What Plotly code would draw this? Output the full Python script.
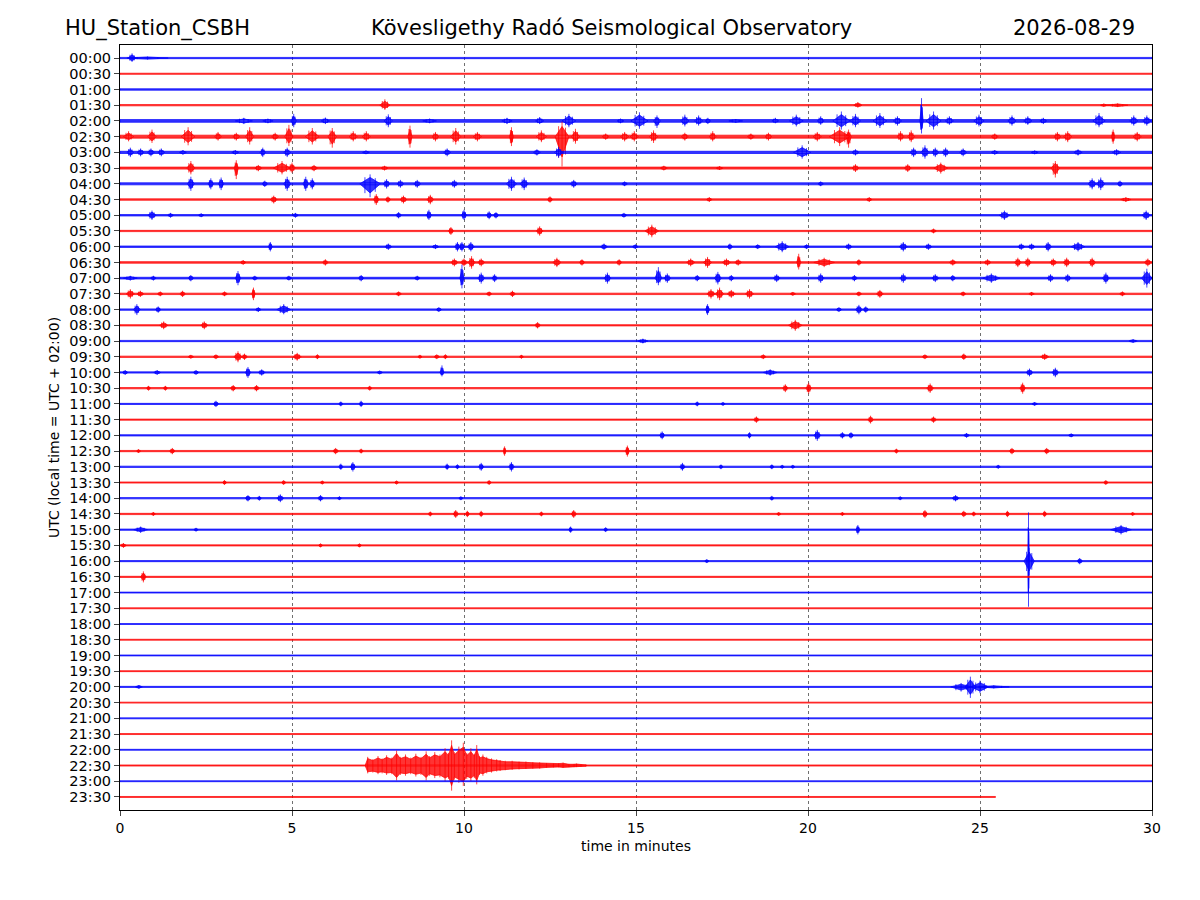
import plotly.graph_objects as go

# helicorder rows: one line per half hour (UTC)
row_labels = [f"{h:02d}:{m:02d}" for h in range(24) for m in (0, 30)]

# background noise half-thickness of each row (in row units)
row_noise = [0.04, 0.035, 0.045, 0.04, 0.085, 0.095, 0.07, 0.065, 0.065, 0.045,
             0.045, 0.04, 0.045, 0.05, 0.055, 0.045, 0.045, 0.04, 0.04, 0.04,
             0.04, 0.04, 0.035, 0.035, 0.04, 0.04, 0.04, 0.035, 0.04, 0.04,
             0.04, 0.035, 0.035, 0.035, 0.03, 0.03, 0.03, 0.03, 0.03, 0.03,
             0.035, 0.03, 0.03, 0.03, 0.03, 0.035, 0.03, 0.03]
# last sample of each row (minutes)
row_end = [30.0] * 47 + [25.45]

# bursts: (row, centre min, half width min, up, down)
bursts = [
    (0, 0.35, 0.12, 0.3, 0.25), (0, 0.8, 0.6, 0.1, 0.1),
    (3, 7.7, 0.15, 0.38, 0.3), (3, 21.45, 0.12, 0.2, 0.15), (3, 28.6, 0.1, 0.1, 0.1), (3, 29.0, 0.3, 0.12, 0.12),
    (4, 3.6, 0.25, 0.2, 0.2), (4, 4.3, 0.15, 0.15, 0.15), (4, 5.05, 0.08, 0.45, 0.4), (4, 5.97, 0.12, 0.22, 0.2),
    (4, 7.8, 0.12, 0.42, 0.4), (4, 9.0, 0.2, 0.15, 0.15), (4, 11.25, 0.15, 0.2, 0.2), (4, 12.2, 0.12, 0.25, 0.2),
    (4, 13.05, 0.2, 0.45, 0.4), (4, 14.55, 0.1, 0.15, 0.15), (4, 15.1, 0.25, 0.55, 0.5), (4, 15.61, 0.1, 0.35, 0.45),
    (4, 16.42, 0.12, 0.4, 0.35), (4, 16.82, 0.12, 0.35, 0.3), (4, 17.09, 0.08, 0.2, 0.2), (4, 17.9, 0.2, 0.12, 0.12),
    (4, 19.05, 0.1, 0.2, 0.15), (4, 19.66, 0.2, 0.4, 0.35), (4, 20.37, 0.1, 0.3, 0.25), (4, 20.97, 0.25, 0.6, 0.55),
    (4, 21.38, 0.15, 0.45, 0.4), (4, 22.09, 0.2, 0.5, 0.45), (4, 22.6, 0.12, 0.3, 0.3), (4, 23.3, 0.05, 1.45, 0.8),
    (4, 23.65, 0.22, 0.6, 0.55), (4, 24.11, 0.12, 0.3, 0.25), (4, 24.97, 0.15, 0.4, 0.35), (4, 25.93, 0.12, 0.35, 0.3),
    (4, 26.39, 0.12, 0.3, 0.25), (4, 26.84, 0.1, 0.2, 0.2), (4, 28.46, 0.18, 0.5, 0.4), (4, 29.47, 0.12, 0.35, 0.3),
    (4, 29.85, 0.12, 0.35, 0.3),
    (5, 0.25, 0.15, 0.35, 0.3), (5, 0.93, 0.12, 0.45, 0.4), (5, 1.98, 0.2, 0.6, 0.55), (5, 2.85, 0.1, 0.3, 0.25),
    (5, 3.38, 0.1, 0.25, 0.25), (5, 3.77, 0.12, 0.6, 0.5), (5, 4.51, 0.1, 0.25, 0.25), (5, 4.91, 0.12, 0.75, 0.6),
    (5, 5.59, 0.2, 0.55, 0.5), (5, 6.17, 0.12, 0.55, 0.7), (5, 6.78, 0.12, 0.35, 0.3), (5, 7.16, 0.12, 0.35, 0.3),
    (5, 8.43, 0.06, 0.7, 0.7), (5, 9.17, 0.1, 0.3, 0.3), (5, 9.76, 0.15, 0.55, 0.5), (5, 10.39, 0.12, 0.3, 0.3),
    (5, 11.38, 0.06, 0.6, 0.6), (5, 12.25, 0.15, 0.4, 0.35), (5, 12.85, 0.2, 0.95, 1.9), (5, 13.24, 0.12, 0.5, 0.45),
    (5, 14.12, 0.1, 0.2, 0.2), (5, 14.67, 0.12, 0.3, 0.3), (5, 14.95, 0.12, 0.35, 0.3), (5, 15.51, 0.12, 0.4, 0.4),
    (5, 16.42, 0.1, 0.25, 0.25), (5, 17.23, 0.1, 0.35, 0.3), (5, 18.34, 0.1, 0.2, 0.2), (5, 18.85, 0.1, 0.25, 0.25),
    (5, 20.27, 0.12, 0.3, 0.3), (5, 20.92, 0.3, 0.6, 0.6), (5, 21.18, 0.08, 0.45, 0.7), (5, 22.69, 0.1, 0.35, 0.3),
    (5, 23.0, 0.1, 0.4, 0.35), (5, 25.43, 0.1, 0.2, 0.2), (5, 27.25, 0.1, 0.3, 0.3), (5, 27.55, 0.12, 0.35, 0.35),
    (5, 28.87, 0.05, 0.45, 0.45), (5, 29.57, 0.12, 0.3, 0.3),
    (6, 0.3, 0.1, 0.3, 0.3), (6, 0.6, 0.1, 0.25, 0.25), (6, 0.9, 0.1, 0.25, 0.25), (6, 1.2, 0.1, 0.25, 0.25),
    (6, 1.83, 0.1, 0.15, 0.15), (6, 3.35, 0.1, 0.15, 0.15), (6, 4.15, 0.08, 0.3, 0.3), (6, 4.86, 0.1, 0.3, 0.3),
    (6, 7.15, 0.1, 0.12, 0.12), (6, 9.51, 0.1, 0.25, 0.25), (6, 12.12, 0.1, 0.2, 0.2), (6, 12.75, 0.12, 0.35, 0.35),
    (6, 19.83, 0.25, 0.45, 0.4), (6, 21.38, 0.1, 0.2, 0.2), (6, 23.07, 0.1, 0.3, 0.3), (6, 23.4, 0.12, 0.45, 0.4),
    (6, 23.7, 0.1, 0.3, 0.3), (6, 24.0, 0.1, 0.3, 0.3), (6, 24.51, 0.1, 0.25, 0.25), (6, 25.43, 0.1, 0.15, 0.15),
    (6, 26.59, 0.1, 0.12, 0.12), (6, 27.85, 0.12, 0.2, 0.2), (6, 28.97, 0.12, 0.2, 0.2),
    (7, 2.06, 0.12, 0.45, 0.4), (7, 3.38, 0.06, 0.5, 0.7), (7, 4.02, 0.1, 0.2, 0.2), (7, 4.71, 0.25, 0.45, 0.4),
    (7, 5.0, 0.1, 0.35, 0.3), (7, 5.64, 0.1, 0.2, 0.2), (7, 7.69, 0.1, 0.15, 0.15), (7, 15.81, 0.1, 0.15, 0.15),
    (7, 17.43, 0.1, 0.12, 0.12), (7, 21.38, 0.1, 0.25, 0.25), (7, 22.9, 0.1, 0.25, 0.25), (7, 23.86, 0.2, 0.35, 0.35),
    (7, 27.19, 0.12, 0.45, 0.6),
    (8, 2.06, 0.1, 0.45, 0.45), (8, 2.64, 0.08, 0.35, 0.35), (8, 2.94, 0.08, 0.4, 0.4), (8, 4.21, 0.08, 0.2, 0.2),
    (8, 4.86, 0.1, 0.45, 0.45), (8, 5.4, 0.08, 0.45, 0.45), (8, 5.59, 0.08, 0.35, 0.35), (8, 7.27, 0.3, 0.6, 0.85),
    (8, 7.75, 0.1, 0.3, 0.3), (8, 8.15, 0.1, 0.25, 0.25), (8, 8.64, 0.1, 0.25, 0.25), (8, 9.72, 0.1, 0.25, 0.25),
    (8, 11.38, 0.15, 0.45, 0.45), (8, 11.75, 0.12, 0.4, 0.4), (8, 13.19, 0.1, 0.25, 0.25), (8, 14.67, 0.08, 0.15, 0.15),
    (8, 20.37, 0.08, 0.15, 0.15), (8, 28.26, 0.12, 0.35, 0.35), (8, 28.51, 0.12, 0.4, 0.4), (8, 29.07, 0.08, 0.2, 0.2),
    (9, 4.47, 0.1, 0.25, 0.25), (9, 7.45, 0.08, 0.35, 0.35), (9, 7.79, 0.08, 0.2, 0.2), (9, 8.24, 0.1, 0.25, 0.25),
    (9, 9.02, 0.1, 0.3, 0.3), (9, 12.5, 0.08, 0.2, 0.2), (9, 17.13, 0.08, 0.15, 0.15), (9, 21.78, 0.08, 0.15, 0.15),
    (9, 29.24, 0.15, 0.15, 0.15),
    (10, 0.93, 0.12, 0.3, 0.3), (10, 1.47, 0.08, 0.15, 0.15), (10, 2.36, 0.08, 0.12, 0.12), (10, 5.1, 0.08, 0.15, 0.15),
    (10, 8.1, 0.08, 0.2, 0.2), (10, 8.98, 0.08, 0.35, 0.3), (10, 10.0, 0.08, 0.35, 0.3), (10, 10.73, 0.08, 0.25, 0.25),
    (10, 10.93, 0.08, 0.2, 0.2), (10, 14.65, 0.08, 0.15, 0.15), (10, 25.71, 0.15, 0.3, 0.3), (10, 29.83, 0.12, 0.3, 0.3),
    (11, 9.62, 0.08, 0.25, 0.25), (11, 12.2, 0.1, 0.3, 0.3), (11, 15.46, 0.2, 0.4, 0.4), (11, 23.65, 0.08, 0.15, 0.15),
    (12, 4.37, 0.06, 0.3, 0.3), (12, 7.8, 0.1, 0.2, 0.2), (12, 9.17, 0.1, 0.15, 0.15), (12, 9.81, 0.08, 0.3, 0.3),
    (12, 9.94, 0.08, 0.3, 0.3), (12, 10.2, 0.1, 0.3, 0.3), (12, 14.07, 0.1, 0.2, 0.2), (12, 14.98, 0.08, 0.15, 0.15),
    (12, 17.73, 0.08, 0.2, 0.2), (12, 18.54, 0.08, 0.15, 0.15), (12, 19.25, 0.2, 0.35, 0.35), (12, 19.96, 0.08, 0.15, 0.15),
    (12, 21.18, 0.1, 0.2, 0.2), (12, 22.77, 0.12, 0.3, 0.3), (12, 23.5, 0.1, 0.2, 0.2), (12, 26.2, 0.1, 0.2, 0.2),
    (12, 26.5, 0.1, 0.2, 0.2), (12, 26.98, 0.1, 0.3, 0.3), (12, 27.85, 0.2, 0.3, 0.3),
    (13, 3.58, 0.08, 0.15, 0.15), (13, 5.97, 0.08, 0.2, 0.2), (13, 9.72, 0.1, 0.25, 0.25), (13, 10.0, 0.1, 0.25, 0.25),
    (13, 10.22, 0.1, 0.4, 0.4), (13, 10.5, 0.1, 0.25, 0.25), (13, 12.7, 0.12, 0.3, 0.3), (13, 13.43, 0.08, 0.2, 0.2),
    (13, 14.51, 0.08, 0.2, 0.2), (13, 16.59, 0.12, 0.25, 0.25), (13, 17.08, 0.12, 0.35, 0.35), (13, 17.63, 0.12, 0.25, 0.25),
    (13, 17.97, 0.1, 0.2, 0.2), (13, 19.73, 0.06, 0.55, 0.45), (13, 20.47, 0.3, 0.3, 0.3), (13, 21.48, 0.08, 0.2, 0.2),
    (13, 24.21, 0.1, 0.2, 0.2), (13, 25.22, 0.1, 0.2, 0.2), (13, 26.1, 0.1, 0.3, 0.3), (13, 26.39, 0.1, 0.3, 0.3),
    (13, 27.13, 0.1, 0.25, 0.25), (13, 27.52, 0.1, 0.3, 0.3), (13, 28.26, 0.1, 0.3, 0.3), (13, 29.88, 0.1, 0.25, 0.25),
    (14, 0.3, 0.2, 0.15, 0.15), (14, 0.97, 0.08, 0.15, 0.15), (14, 2.06, 0.08, 0.2, 0.2), (14, 3.43, 0.08, 0.45, 0.45),
    (14, 3.92, 0.08, 0.15, 0.15), (14, 4.91, 0.08, 0.15, 0.15), (14, 7.01, 0.08, 0.2, 0.2), (14, 8.64, 0.08, 0.15, 0.15),
    (14, 9.94, 0.06, 0.85, 0.65), (14, 10.5, 0.1, 0.35, 0.35), (14, 10.89, 0.08, 0.25, 0.25), (14, 14.17, 0.1, 0.35, 0.35),
    (14, 15.65, 0.1, 0.7, 0.45), (14, 15.91, 0.1, 0.3, 0.3), (14, 16.78, 0.08, 0.2, 0.2), (14, 17.38, 0.1, 0.4, 0.4),
    (14, 17.77, 0.08, 0.2, 0.2), (14, 19.09, 0.1, 0.25, 0.25), (14, 20.37, 0.1, 0.3, 0.3), (14, 21.35, 0.08, 0.2, 0.2),
    (14, 22.77, 0.1, 0.3, 0.3), (14, 23.7, 0.1, 0.25, 0.25), (14, 24.21, 0.08, 0.2, 0.2), (14, 25.33, 0.25, 0.3, 0.3),
    (14, 27.05, 0.1, 0.25, 0.25), (14, 27.55, 0.1, 0.25, 0.25), (14, 28.66, 0.1, 0.35, 0.35), (14, 29.85, 0.15, 0.6, 0.6),
    (15, 0.3, 0.12, 0.3, 0.3), (15, 0.59, 0.1, 0.2, 0.2), (15, 1.17, 0.08, 0.15, 0.15), (15, 1.82, 0.08, 0.2, 0.2),
    (15, 3.04, 0.08, 0.15, 0.15), (15, 3.88, 0.05, 0.4, 0.4), (15, 8.1, 0.08, 0.15, 0.15), (15, 10.73, 0.08, 0.15, 0.15),
    (15, 11.41, 0.08, 0.2, 0.2), (15, 17.18, 0.12, 0.3, 0.3), (15, 17.43, 0.12, 0.4, 0.4), (15, 17.77, 0.12, 0.25, 0.25),
    (15, 18.3, 0.12, 0.3, 0.3), (15, 19.56, 0.08, 0.12, 0.12), (15, 21.48, 0.08, 0.15, 0.15), (15, 22.09, 0.1, 0.25, 0.25),
    (15, 24.51, 0.08, 0.15, 0.15), (15, 26.5, 0.08, 0.12, 0.12), (15, 29.14, 0.08, 0.15, 0.15),
    (16, 0.49, 0.1, 0.35, 0.35), (16, 1.11, 0.08, 0.2, 0.2), (16, 4.02, 0.08, 0.15, 0.15), (16, 4.76, 0.2, 0.35, 0.3),
    (16, 9.27, 0.08, 0.15, 0.15), (16, 17.08, 0.06, 0.35, 0.35), (16, 20.9, 0.08, 0.15, 0.15), (16, 21.48, 0.1, 0.3, 0.3),
    (16, 21.68, 0.08, 0.2, 0.2),
    (17, 1.27, 0.12, 0.25, 0.25), (17, 2.45, 0.1, 0.25, 0.25), (17, 12.14, 0.08, 0.2, 0.2), (17, 19.63, 0.2, 0.35, 0.35),
    (18, 15.2, 0.15, 0.15, 0.15), (18, 29.45, 0.12, 0.12, 0.12),
    (19, 2.06, 0.08, 0.12, 0.12), (19, 2.79, 0.08, 0.15, 0.15), (19, 3.43, 0.12, 0.35, 0.35), (19, 3.62, 0.08, 0.2, 0.2),
    (19, 5.15, 0.12, 0.25, 0.25), (19, 5.74, 0.06, 0.15, 0.15), (19, 8.72, 0.06, 0.12, 0.12), (19, 9.21, 0.08, 0.15, 0.15),
    (19, 9.46, 0.06, 0.15, 0.15), (19, 11.67, 0.06, 0.12, 0.12), (19, 18.7, 0.08, 0.15, 0.15), (19, 23.4, 0.08, 0.15, 0.15),
    (19, 24.53, 0.08, 0.2, 0.2), (19, 26.88, 0.12, 0.2, 0.2),
    (20, 0.15, 0.08, 0.15, 0.15), (20, 1.08, 0.1, 0.15, 0.15), (20, 2.21, 0.08, 0.15, 0.15), (20, 3.72, 0.08, 0.35, 0.35),
    (20, 4.12, 0.1, 0.2, 0.2), (20, 7.55, 0.08, 0.12, 0.12), (20, 9.36, 0.06, 0.45, 0.25), (20, 18.9, 0.2, 0.2, 0.2),
    (20, 26.44, 0.1, 0.25, 0.25), (20, 27.19, 0.1, 0.3, 0.3),
    (21, 0.83, 0.06, 0.15, 0.15), (21, 1.32, 0.06, 0.15, 0.15), (21, 3.29, 0.08, 0.2, 0.2), (21, 3.97, 0.08, 0.2, 0.2),
    (21, 7.26, 0.06, 0.15, 0.15), (21, 19.34, 0.08, 0.25, 0.25), (21, 20.02, 0.08, 0.35, 0.35), (21, 23.55, 0.1, 0.3, 0.3),
    (21, 26.24, 0.08, 0.35, 0.35),
    (22, 2.79, 0.08, 0.2, 0.2), (22, 6.42, 0.06, 0.15, 0.15), (22, 7.01, 0.06, 0.2, 0.2), (22, 16.78, 0.06, 0.15, 0.15),
    (22, 17.53, 0.06, 0.12, 0.12), (22, 26.59, 0.08, 0.12, 0.12),
    (23, 18.5, 0.08, 0.2, 0.2), (23, 21.82, 0.08, 0.25, 0.25), (23, 23.65, 0.08, 0.2, 0.2),
    (24, 15.76, 0.08, 0.25, 0.25), (24, 18.3, 0.06, 0.2, 0.2), (24, 20.27, 0.1, 0.35, 0.35), (24, 21.0, 0.08, 0.2, 0.2),
    (24, 21.25, 0.08, 0.2, 0.2), (24, 24.61, 0.08, 0.15, 0.15), (24, 27.65, 0.08, 0.12, 0.12),
    (25, 0.54, 0.06, 0.12, 0.12), (25, 1.52, 0.08, 0.2, 0.2), (25, 6.27, 0.08, 0.2, 0.2), (25, 7.01, 0.06, 0.15, 0.15),
    (25, 11.18, 0.04, 0.3, 0.3), (25, 14.75, 0.06, 0.35, 0.35), (25, 22.57, 0.06, 0.15, 0.15), (25, 25.93, 0.08, 0.2, 0.2),
    (25, 26.94, 0.08, 0.2, 0.2),
    (26, 6.42, 0.06, 0.2, 0.2), (26, 6.77, 0.08, 0.3, 0.3), (26, 9.51, 0.06, 0.2, 0.2), (26, 9.81, 0.06, 0.15, 0.15),
    (26, 10.5, 0.08, 0.25, 0.25), (26, 11.38, 0.08, 0.3, 0.3), (26, 16.35, 0.08, 0.25, 0.25), (26, 17.47, 0.06, 0.15, 0.15),
    (26, 18.95, 0.06, 0.15, 0.15), (26, 19.25, 0.06, 0.12, 0.12), (26, 19.56, 0.06, 0.12, 0.12), (26, 25.53, 0.06, 0.12, 0.12),
    (27, 3.04, 0.06, 0.15, 0.15), (27, 4.76, 0.06, 0.15, 0.15), (27, 5.88, 0.06, 0.12, 0.12), (27, 8.04, 0.06, 0.12, 0.12),
    (27, 10.73, 0.06, 0.15, 0.15), (27, 28.66, 0.06, 0.15, 0.15),
    (28, 3.72, 0.08, 0.2, 0.2), (28, 4.05, 0.06, 0.15, 0.15), (28, 4.66, 0.1, 0.25, 0.25), (28, 5.83, 0.08, 0.2, 0.2),
    (28, 6.38, 0.06, 0.12, 0.12), (28, 9.91, 0.06, 0.12, 0.12), (28, 18.95, 0.06, 0.15, 0.15), (28, 22.68, 0.06, 0.12, 0.12),
    (28, 24.29, 0.1, 0.2, 0.2),
    (29, 0.97, 0.06, 0.12, 0.12), (29, 9.02, 0.06, 0.15, 0.15), (29, 9.76, 0.08, 0.25, 0.25), (29, 10.1, 0.06, 0.2, 0.2),
    (29, 10.5, 0.06, 0.2, 0.2), (29, 12.25, 0.06, 0.15, 0.15), (29, 13.19, 0.08, 0.25, 0.25), (29, 19.15, 0.06, 0.12, 0.12),
    (29, 21.0, 0.06, 0.12, 0.12), (29, 23.4, 0.08, 0.25, 0.25), (29, 24.53, 0.08, 0.2, 0.2), (29, 24.82, 0.06, 0.15, 0.15),
    (29, 25.8, 0.06, 0.2, 0.2), (29, 26.88, 0.06, 0.2, 0.2), (29, 29.44, 0.06, 0.12, 0.12),
    (30, 0.6, 0.2, 0.2, 0.2), (30, 2.21, 0.06, 0.12, 0.12), (30, 13.1, 0.06, 0.2, 0.2), (30, 14.12, 0.06, 0.15, 0.15),
    (30, 21.45, 0.06, 0.3, 0.3), (30, 29.1, 0.3, 0.3, 0.3),
    (31, 0.1, 0.08, 0.15, 0.15), (31, 5.83, 0.06, 0.12, 0.12), (31, 6.96, 0.06, 0.12, 0.12),
    (32, 26.41, 0.02, 3.1, 2.9), (32, 26.43, 0.15, 0.85, 0.9), (32, 27.9, 0.08, 0.2, 0.2), (32, 17.06, 0.06, 0.12, 0.12),
    (33, 0.68, 0.08, 0.35, 0.35),
    (40, 0.55, 0.1, 0.12, 0.12), (40, 24.45, 0.3, 0.25, 0.3), (40, 24.72, 0.15, 0.65, 0.7),
    (40, 25.0, 0.25, 0.4, 0.4), (40, 25.4, 0.45, 0.1, 0.1),
]

# 22:30 earthquake envelope
quake_row = 45
quake_t = [7.14, 7.2, 7.35, 7.5, 7.62, 7.75, 7.9, 8.04, 8.15, 8.3, 8.45, 8.6, 8.75, 8.9, 9.0, 9.15,
           9.3, 9.45, 9.55, 9.64, 9.72, 9.85, 9.98, 10.08, 10.2, 10.3, 10.37, 10.45, 10.55, 10.66,
           10.8, 10.95, 11.05, 11.2, 11.4, 11.6, 11.8, 12.0, 12.2, 12.4, 12.6, 12.75, 12.88, 13.05,
           13.2, 13.27, 13.4, 13.55]
quake_up = [0.1, 0.55, 0.4, 0.6, 0.45, 0.65, 0.5, 0.95, 0.55, 0.7, 0.5, 0.75, 0.55, 0.9, 0.6, 0.85,
            0.7, 1.1, 0.8, 1.6, 0.85, 1.2, 1.45, 0.8, 1.1, 0.75, 1.3, 0.6, 0.7, 0.55, 0.45, 0.4,
            0.35, 0.3, 0.3, 0.25, 0.25, 0.22, 0.2, 0.15, 0.12, 0.15, 0.18, 0.1, 0.1, 0.12, 0.08, 0.05]
quake_dn = [0.1, 0.5, 0.45, 0.55, 0.5, 0.6, 0.55, 0.95, 0.6, 0.65, 0.55, 0.7, 0.6, 0.95, 0.65, 0.8,
            0.75, 1.0, 0.85, 1.6, 0.9, 1.1, 1.3, 0.85, 1.0, 0.8, 1.2, 0.6, 0.65, 0.5, 0.45, 0.38,
            0.35, 0.3, 0.28, 0.25, 0.22, 0.2, 0.2, 0.15, 0.12, 0.12, 0.15, 0.1, 0.1, 0.1, 0.08, 0.05]

x_ticks = [0, 5, 10, 15, 20, 25, 30]

CORE = 0.68        # share of a burst drawn as a solid body, the rest as thin spikes
QUAKE_CORE = 0.8

fig = go.Figure()

for r, label in enumerate(row_labels):
    color = "#0000ff" if r % 2 == 0 else "#ff0000"
    fill = "rgba(0,0,255,0.8)" if r % 2 == 0 else "rgba(255,0,0,0.8)"
    n = row_noise[r]
    end = row_end[r]
    # solid body: noise band plus burst spindles
    bx = [0, end, end, 0, 0, None]
    by = [r - n, r - n, r + n, r + n, r - n, None]
    # hair: vertical strokes at burst peaks
    hx, hy = [], []
    for (br, t, hw, up, dn) in bursts:
        if br != r:
            continue
        bx += [t - hw, t, t + hw, t, t - hw, None]
        by += [r, r - CORE * up, r, r + CORE * dn, r, None]
        hx += [t, t, None, t - hw / 2, t - hw / 2, None, t + hw / 2, t + hw / 2, None]
        hy += [r - up, r + dn, None, r - 0.7 * up, r + 0.7 * dn, None,
               r - 0.6 * up, r + 0.6 * dn, None]
    if r == quake_row:
        bx += quake_t + quake_t[::-1] + [None]
        by += ([r - QUAKE_CORE * u for u in quake_up]
               + [r + QUAKE_CORE * d for d in quake_dn[::-1]] + [None])
        for t, u, d in zip(quake_t, quake_up, quake_dn):
            hx += [t, t, None]
            hy += [r - u, r + d, None]
    fig.add_trace(go.Scatter(
        x=bx, y=by, mode="lines", fill="toself", fillcolor=fill,
        line=dict(color=color, width=0.7), hoverinfo="skip", showlegend=False,
    ))
    if hx:
        fig.add_trace(go.Scatter(
            x=hx, y=hy, mode="lines", line=dict(color=color, width=0.9),
            opacity=0.8, hoverinfo="skip", showlegend=False,
        ))

font = "DejaVu Sans, Arial, sans-serif"
fig.update_layout(
    width=1200, height=900,
    margin=dict(l=112, r=56, t=37, b=98),
    plot_bgcolor="white", paper_bgcolor="white",
    font=dict(family=font, size=14, color="black"),
    xaxis=dict(
        range=[0, 30], tickvals=x_ticks, ticks="outside", ticklen=5, tickwidth=1,
        showline=True, linecolor="black", linewidth=1, mirror=True,
        showgrid=True, gridcolor="#707070", gridwidth=0.8, griddash="dot",
        zeroline=False, tickfont=dict(size=14),
        title=dict(text="time in minutes", font=dict(size=14), standoff=6),
    ),
    yaxis=dict(
        range=[len(row_labels) - 1 + 0.83, -0.83], tickvals=list(range(len(row_labels))),
        ticktext=row_labels, ticks="outside", ticklen=5, tickwidth=1,
        showline=True, linecolor="black", linewidth=1, mirror=True,
        showgrid=False, zeroline=False, tickfont=dict(size=14.5),
        title=dict(text="UTC (local time = UTC + 02:00)", font=dict(size=14), standoff=6),
    ),
    annotations=[
        dict(text="HU_Station_CSBH", xref="paper", yref="paper", x=-0.0552, y=1.022,
             xanchor="left", yanchor="middle", showarrow=False, font=dict(size=21)),
        dict(text="Kövesligethy Radó Seismological Observatory", xref="paper", yref="paper",
             x=0.4763, y=1.022, xanchor="center", yanchor="middle", showarrow=False,
             font=dict(size=21)),
        dict(text="2026-08-29", xref="paper", yref="paper", x=0.9855, y=1.022,
             xanchor="right", yanchor="middle", showarrow=False, font=dict(size=21)),
    ],
)

fig.write_html("out.html")
